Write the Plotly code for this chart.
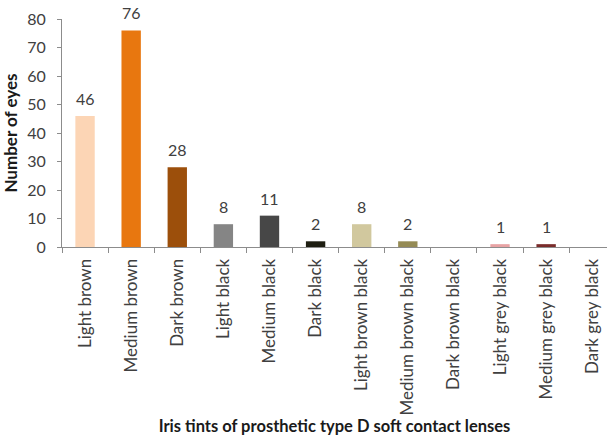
import plotly.graph_objects as go

# Iris tint categories and the number of eyes fitted with each
tints = [
    "Light brown", "Medium brown", "Dark brown", "Light black", "Medium black",
    "Dark black", "Light brown black", "Medium brown black", "Dark brown black",
    "Light grey black", "Medium grey black", "Dark grey black",
]
eyes = [46, 76, 28, 8, 11, 2, 8, 2, 0, 1, 1, 0]
bar_colors = [
    "#FCD5B5", "#E8770F", "#9C4F0B", "#858585", "#474747", "#1E1E12",
    "#D1C89E", "#958B55", "#808080", "#E8A3A4", "#7A2C2B", "#808080",
]
y_ticks = [0, 10, 20, 30, 40, 50, 60, 70, 80]

FONT = "Lato"
AXIS_GREY = "#8C8C8C"

fig = go.Figure(
    go.Bar(
        x=tints,
        y=eyes,
        marker=dict(color=bar_colors, line=dict(width=0)),
        width=0.42,
        hoverinfo="x+y",
    )
)

# value labels above the non-empty bars
for name, val in zip(tints, eyes):
    if val > 0:
        fig.add_annotation(
            x=name, y=val, text=str(val), showarrow=False,
            yanchor="bottom", yshift=6,
            font=dict(family=FONT, size=16, color="#404040"),
        )

fig.update_layout(
    width=607,
    height=436,
    margin=dict(l=62, r=0, t=19, b=189),
    paper_bgcolor="white",
    plot_bgcolor="white",
    showlegend=False,
    bargap=0.58,
    font=dict(family=FONT, size=16, color="#404040"),
)

fig.update_xaxes(
    type="category",
    range=[-0.5, 11.32],
    showline=True, linecolor=AXIS_GREY, linewidth=1,
    ticks="outside", ticklen=5, tickcolor=AXIS_GREY, tickson="boundaries",
    tickangle=-90,
    ticklabelstandoff=4,
    tickfont=dict(family=FONT, size=17, color="#404040"),
    showgrid=False, zeroline=False,
    title=dict(
        text="<b>Iris tints of prosthetic type D soft contact lenses</b>",
        font=dict(family=FONT, size=16.5, color="#1a1a1a"),
        standoff=10,
    ),
)

fig.update_yaxes(
    range=[0, 80],
    tickvals=y_ticks,
    showline=True, linecolor=AXIS_GREY, linewidth=1,
    ticks="outside", ticklen=4, tickcolor=AXIS_GREY,
    ticklabelstandoff=8,
    tickfont=dict(family=FONT, size=16, color="#404040"),
    showgrid=False, zeroline=False,
    title=dict(
        text="<b>Number of eyes</b>",
        font=dict(family=FONT, size=17, color="#1a1a1a"),
        standoff=6,
    ),
)

fig.write_html("out.html")
